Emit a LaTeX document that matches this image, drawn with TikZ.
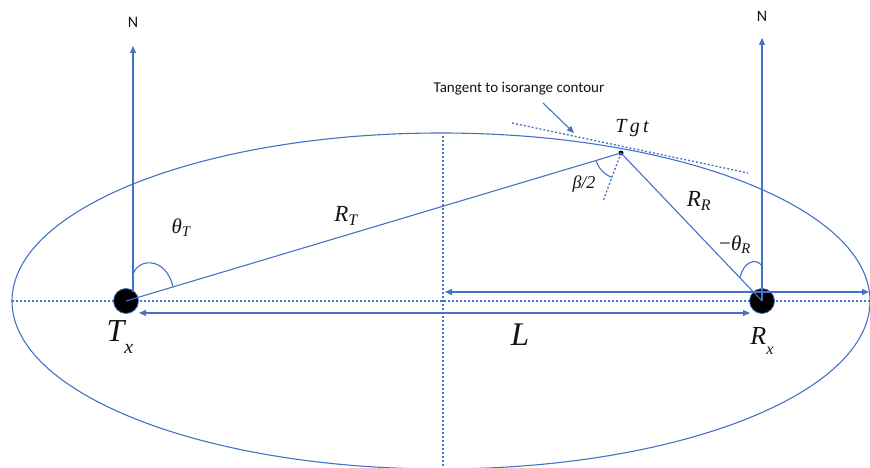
\documentclass[tikz,border=0pt]{standalone}
\usepackage{fontspec}
\newfontfamily\labfont{Carlito}
\newfontfamily\serfont{Liberation Serif}
\usetikzlibrary{arrows.meta}
\definecolor{lineblue}{RGB}{68,114,196}
\definecolor{txt}{RGB}{20,20,20}
\newcommand{\mysub}[1]{\textsubscript{#1}}
\newcommand{\lowsub}[1]{\raisebox{-0.35em}{\fontsize{0.62em}{0.62em}\selectfont #1}}
\begin{document}
\begin{tikzpicture}[x=1pt,y=-1pt,
  ln/.style={draw=lineblue,line width=1.1pt},
  dotln/.style={draw=lineblue,line width=1.3pt,dash pattern=on 2pt off 2pt},
  tip/.style={-{Triangle[length=7pt,width=6pt]}},
  dtip/.style={{Triangle[length=7pt,width=6pt]}-{Triangle[length=7pt,width=6pt]}},
  station/.style={circle,fill=black,draw=lineblue,line width=0.8pt,minimum size=25pt,inner sep=0pt},
  sanslab/.style={text=txt,font=\labfont},
  mlab/.style={text=txt,inner sep=0pt}]
\useasboundingbox (0,0) rectangle (870,468);
\clip (0,0) rectangle (870,468);
% ellipse
\draw[ln] (441,301) ellipse [x radius=429, y radius=168];
% dotted axes
\coordinate (hl) at (12,301);
\coordinate (hr) at (870,301);
\coordinate (vt) at (443,136);
\coordinate (vb) at (443,468);
\draw[dotln] (hl) -- (hr);
\draw[dotln] (vt) -- (vb);
% stations
\node[station] (Tx) at (126,301) {};
\node[station] (Rx) at (762,301) {};
\node[circle,fill=black,minimum size=5pt,inner sep=0pt] (Tgt) at (621,153) {};
% north arrows
\coordinate (NTb) at (133,292);
\coordinate (NTt) at (133,46);
\coordinate (NRb) at (762,301);
\coordinate (NRt) at (762,38);
\draw[ln,tip] (NTb) -- (NTt);
\draw[ln,tip] (NRb) -- (NRt);
\node[sanslab,font=\labfont\fontsize{16}{16}\selectfont] (N1) at (133,22) {N};
\node[sanslab,font=\labfont\fontsize{16}{16}\selectfont] (N2) at (762,16) {N};
% ranges
\draw[ln] (Tx.center) -- (Tgt.center);
\draw[ln] (Tgt.center) -- (Rx.center);
% horizontal arrows
\coordinate (ha) at (445,292);
\coordinate (hb) at (869,292);
\draw[ln,dtip] (ha) -- (hb);
\coordinate (La) at (139,313);
\coordinate (Lb) at (750,313);
\draw[ln,dtip] (La) -- (Lb);
% tangent and bisector
\coordinate (ta) at (512,123);
\coordinate (tb) at (748,173);
\draw[dotln] (ta) -- (tb);
\coordinate (bis) at (603,201);
\draw[dotln] (Tgt.center) -- (bis);
% tangent label
\node[sanslab,font=\labfont\fontsize{15}{15}\selectfont] (tanlab) at (519,89) {Tangent to isorange contour};
\coordinate (tarr1) at (543,103);
\coordinate (tarr2) at (574,133);
\draw[ln,tip] (tarr1) -- (tarr2);
% angle arcs
\draw[ln] (621,153) ++(163:26) arc[start angle=163,end angle=111,radius=26];
\draw[ln] (133,275) .. controls (137,258) and (166,256) .. (173,287);
\draw[ln] (740,278) .. controls (743,262) and (756,257) .. (762,266);
% labels
\node[mlab,font=\serfont\itshape\fontsize{20}{20}\selectfont] (tgtl) at (632,128) {T\,g\,t};
\node[mlab,font=\serfont\itshape\fontsize{18}{18}\selectfont] (betal) at (584,184) {β/2};
\node[mlab,font=\serfont\itshape\fontsize{23}{23}\selectfont] (RTl) at (346,216) {R\mysub{T}};
\node[mlab,font=\serfont\itshape\fontsize{23}{23}\selectfont] (RRl) at (699,201) {R\mysub{R}};
\node[mlab,font=\serfont\itshape\fontsize{21}{21}\selectfont] (thTl) at (181,228) {θ\mysub{T}};
\node[mlab,font=\serfont\itshape\fontsize{21}{21}\selectfont] (thRl) at (735,245) {\upshape−\itshape θ\mysub{R}};
\node[mlab,font=\serfont\itshape\fontsize{32}{32}\selectfont] (Txl) at (120,337) {T\lowsub{x}};
\node[mlab,font=\serfont\itshape\fontsize{33}{33}\selectfont] (Ll) at (520,335) {L};
\node[mlab,font=\serfont\itshape\fontsize{26}{26}\selectfont] (Rxl) at (762,341) {R\lowsub{x}};
\end{tikzpicture}
\end{document}
